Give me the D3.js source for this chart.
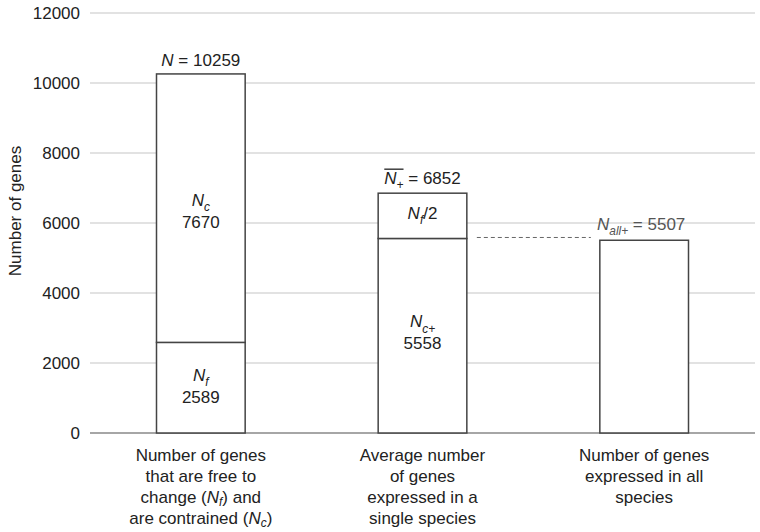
<!DOCTYPE html>
<html>
<head>
<meta charset="utf-8">
<script src="https://cdn.jsdelivr.net/npm/d3@7"></script>
<style>
  body { margin: 0; background: #fff; }
  svg text { font-family: "Liberation Sans", Arial, sans-serif; fill: #222; }
</style>
</head>
<body>
<div id="chart-area"></div>
<script>
let margin = { left: 90, right: 5, top: 13, bottom: 99 };
let width = 760 - margin.left - margin.right,
	height = 532 - margin.top - margin.bottom;
let fs = 17;

// Data
let categories = ["free", "average", "all"];
let bottomValues = [2589, 5558, 5507];
let topValues = [7670, 1294, 0];
let totals = [10259, 6852, 5507];
let yTicks = [0, 2000, 4000, 6000, 8000, 10000, 12000];

// rich text pieces: i = italic, s = subscript
let bottomLabels = [
	[[{ t: "N", i: 1 }, { t: "f", i: 1, s: 1 }], [{ t: "2589" }]],
	[[{ t: "N", i: 1 }, { t: "c+", i: 1, s: 1 }], [{ t: "5558" }]],
	null
];
let topLabels = [
	[[{ t: "N", i: 1 }, { t: "c", i: 1, s: 1 }], [{ t: "7670" }]],
	[[{ t: "N", i: 1 }, { t: "f", i: 1, s: 1 }, { t: "/2" }]],
	null
];
let categoryLines = [
	[[{ t: "Number of genes" }], [{ t: "that are free to" }],
	 [{ t: "change (" }, { t: "N", i: 1 }, { t: "f", i: 1, s: 1 }, { t: ") and" }],
	 [{ t: "are contrained (" }, { t: "N", i: 1 }, { t: "c", i: 1, s: 1 }, { t: ")" }]],
	[[{ t: "Average number" }], [{ t: "of genes" }], [{ t: "expressed in a" }], [{ t: "single species" }]],
	[[{ t: "Number of genes" }], [{ t: "expressed in all" }], [{ t: "species" }]]
];

let svg = d3.select("#chart-area")
	.append("svg")
	.attr("width", 760)
	.attr("height", 532);
let g = svg.append("g")
	.attr("transform", "translate(" + margin.left + "," + margin.top + ")");

// Scales
let x = d3.scaleBand()
	.domain(categories)
	.range([0, width])
	.paddingInner(0.6)
	.paddingOuter(0.3);

let y = d3.scaleLinear()
	.domain([0, 12000])
	.range([height, 0]);

// write a line made of pieces into a text element
const rich = (text, pieces, size, drop) => {
	let d = drop || 0.3;
	pieces.forEach((p) => {
		let ts = text.append("tspan").text(p.t);
		if (p.i) ts.attr("font-style", "italic");
		if (p.s) {
			ts.attr("font-size", (size * 0.7) + "px").attr("dy", size * d);
		}
	});
	// reset baseline after a subscript
	pieces.forEach((p, k) => {
		if (p.s && k < pieces.length - 1) {
			text.selectAll("tspan").filter((dd, j) => j === k + 1).attr("dy", -size * d);
		}
	});
};

// Grid
g.append("g")
	.selectAll("line")
	.data(yTicks.filter((d) => d > 0))
	.enter()
	.append("line")
	.attr("x1", 0)
	.attr("x2", width)
	.attr("y1", (d) => y(d))
	.attr("y2", (d) => y(d))
	.attr("stroke", "#d9d9d9")
	.attr("stroke-width", 1.5);

// Y axis labels
let yAxisCall = d3.axisLeft(y)
	.tickValues(yTicks)
	.tickSize(0)
	.tickPadding(10)
	.tickFormat((d) => d);
let yAxis = g.append("g").call(yAxisCall);
yAxis.select(".domain").remove();
yAxis.selectAll("text")
	.attr("font-size", fs + "px")
	.attr("font-family", "Liberation Sans, Arial, sans-serif")
	.attr("fill", "#222");

g.append("text")
	.attr("transform", "rotate(-90)")
	.attr("x", -(y(0) + y(12000)) / 2 + 12)
	.attr("y", -69)
	.attr("font-size", fs + "px")
	.attr("text-anchor", "middle")
	.text("Number of genes");

// Baseline
g.append("line")
	.attr("x1", 0)
	.attr("x2", width)
	.attr("y1", y(0))
	.attr("y2", y(0))
	.attr("stroke", "#888")
	.attr("stroke-width", 1.5);

// Bars: bottom segments
g.selectAll(".bottom")
	.data(categories)
	.enter()
	.append("rect")
	.attr("class", "bottom")
	.attr("x", (d) => x(d))
	.attr("width", x.bandwidth())
	.attr("y", (d, i) => y(bottomValues[i]))
	.attr("height", (d, i) => y(0) - y(bottomValues[i]))
	.attr("fill", "#fff")
	.attr("stroke", "#444")
	.attr("stroke-width", 1.5);

// Bars: top segments
g.selectAll(".top")
	.data(categories.filter((d, i) => topValues[i] > 0))
	.enter()
	.append("rect")
	.attr("class", "top")
	.attr("x", (d) => x(d))
	.attr("width", x.bandwidth())
	.attr("y", (d) => { let i = categories.indexOf(d); return y(bottomValues[i] + topValues[i]); })
	.attr("height", (d) => { let i = categories.indexOf(d); return y(bottomValues[i]) - y(bottomValues[i] + topValues[i]); })
	.attr("fill", "#fff")
	.attr("stroke", "#444")
	.attr("stroke-width", 1.5);

// Segment labels
const segLabel = (lines, cx, cy) => {
	let lh = 22;
	let y0 = cy - (lines.length - 1) * lh / 2 + 5;
	lines.forEach((line, k) => {
		let t = g.append("text")
			.attr("x", cx)
			.attr("y", y0 + k * lh)
			.attr("font-size", fs + "px")
			.attr("text-anchor", "middle");
		rich(t, line, fs);
	});
};

categories.forEach((c, i) => {
	let cx = x(c) + x.bandwidth() / 2;
	if (bottomLabels[i]) {
		let mid = i === 1 ? y(bottomValues[i]) + 95 : y(bottomValues[i] / 2) - 1;
		segLabel(bottomLabels[i], cx, mid);
	}
	if (topLabels[i]) {
		let off = i === 0 ? 4 : -2;
		segLabel(topLabels[i], cx, y(bottomValues[i] + topValues[i] / 2) + off);
	}
});

// Total labels
let c0 = x(categories[0]) + x.bandwidth() / 2;
let t0 = g.append("text")
	.attr("x", c0)
	.attr("y", y(totals[0]) - 8)
	.attr("font-size", fs + "px")
	.attr("text-anchor", "middle");
rich(t0, [{ t: "N", i: 1 }, { t: " = " + totals[0] }], fs);

let c1 = x(categories[1]) + x.bandwidth() / 2;
let t1 = g.append("text")
	.attr("x", c1)
	.attr("y", y(totals[1]) - 9)
	.attr("font-size", fs + "px")
	.attr("text-anchor", "middle");
rich(t1, [{ t: "N", i: 1 }, { t: "+", i: 1, s: 1 }, { t: " = " + totals[1] }], fs);
// overline on the N+ part
let spans = t1.selectAll("tspan").nodes();
let bx0 = spans[0].getStartPositionOfChar(0).x;
let bx1 = spans[1].getEndPositionOfChar(0).x;
g.append("line")
	.attr("x1", bx0)
	.attr("x2", bx1)
	.attr("y1", y(totals[1]) - 24)
	.attr("y2", y(totals[1]) - 24)
	.attr("stroke", "#222")
	.attr("stroke-width", 1.3);

let c2 = x(categories[2]) + x.bandwidth() / 2;
let t2 = g.append("text")
	.attr("x", c2 - 3)
	.attr("y", y(totals[2]) - 10)
	.attr("font-size", fs + "px")
	.attr("text-anchor", "middle")
	.style("fill", "#555");
rich(t2, [{ t: "N", i: 1 }, { t: "all+", i: 1, s: 1 }, { t: " = " + totals[2] }], fs);
t2.selectAll("tspan").style("fill", "#555");

// Dashed guide from the constrained part to the all-species bar
g.append("line")
	.attr("x1", x(categories[1]) + x.bandwidth() + 10)
	.attr("x2", x(categories[2]) - 9)
	.attr("y1", y(bottomValues[1]) - 1)
	.attr("y2", y(bottomValues[1]) - 1)
	.attr("stroke", "#666")
	.attr("stroke-width", 1)
	.attr("stroke-dasharray", "4,3");

// Category labels
categories.forEach((c, i) => {
	let cx = x(c) + x.bandwidth() / 2;
	categoryLines[i].forEach((line, k) => {
		let t = g.append("text")
			.attr("x", cx)
			.attr("y", height + 28 + k * 21)
			.attr("font-size", fs + "px")
			.attr("text-anchor", "middle");
		rich(t, line, fs, 0.18);
	});
});
</script>
</body>
</html>
